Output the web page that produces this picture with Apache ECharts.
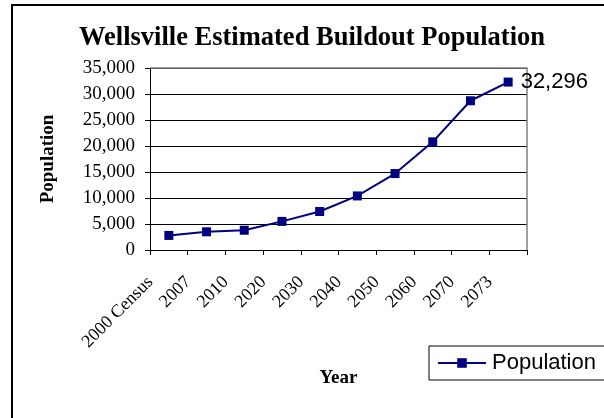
<!DOCTYPE html>
<html><head><meta charset="utf-8">
<script src="https://cdn.jsdelivr.net/npm/echarts@6/dist/echarts.min.js"></script>
<style>html,body{margin:0;padding:0;background:#fff}#c{width:604px;height:418px}</style>
</head><body><div id="c"></div>
<script>
var categories = ['2000 Census','2007','2010','2020','2030','2040','2050','2060','2070','2073'];
var population = [2800, 3500, 3800, 5500, 7400, 10400, 14700, 20800, 28700, 32296];
var yTicks = {min: 0, max: 35000, interval: 5000};
var titleText = 'Wellsville Estimated Buildout Population';
var xName = 'Year', yName = 'Population', seriesName = 'Population';

var chart = echarts.init(document.getElementById('c'), null, {renderer: 'canvas'});
var serif = '"Liberation Serif", "Times New Roman", serif';
var sans = '"Liberation Sans", Arial, sans-serif';
var lastIdx = population.length - 1;
var G = {left: 150, top: 68, right: 527, bottom: 250};
chart.setOption({
  animation: false,
  backgroundColor: '#fff',
  graphic: [
    {type: 'rect', shape: {x: 12, y: 5, width: 700, height: 500}, style: {fill: 'none', stroke: '#000', lineWidth: 2}, z: 100},
    {type: 'polyline', shape: {points: [[G.left, G.top], [G.right, G.top], [G.right, G.bottom]]},
      style: {fill: 'none', stroke: '#808080', lineWidth: 1.5}, z: 1}
  ],
  title: {
    text: titleText, left: 307, textAlign: 'center', top: 20,
    textStyle: {fontFamily: serif, fontWeight: 'bold', fontSize: 26.5, color: '#000'}
  },
  legend: {
    left: 429, top: 346, padding: [6, 14, 6, 8],
    borderColor: '#000', borderWidth: 1, backgroundColor: '#fff',
    itemWidth: 48, itemHeight: 12, itemGap: 4,
    textStyle: {fontFamily: sans, fontSize: 22, color: '#000', padding: [0, 0, 0, 1]},
    data: [seriesName]
  },
  grid: {left: G.left, right: 604 - G.right, top: G.top, bottom: 418 - G.bottom, containLabel: false},
  xAxis: {
    type: 'category', data: categories, boundaryGap: true,
    name: xName, nameLocation: 'middle', nameGap: 119,
    nameTextStyle: {fontFamily: serif, fontWeight: 'bold', fontSize: 19, color: '#000'},
    axisLine: {lineStyle: {color: '#000', width: 1}},
    axisTick: {show: true, alignWithLabel: false, length: 5, lineStyle: {color: '#000'}},
    axisLabel: {rotate: 45, interval: 0, fontFamily: serif, fontSize: 18, color: '#000', margin: 11,
      padding: [0, 26, 0, 0]}
  },
  yAxis: {
    type: 'value', min: yTicks.min, max: yTicks.max, interval: yTicks.interval,
    name: yName, nameLocation: 'middle', nameGap: 92, nameRotate: 90,
    nameTextStyle: {fontFamily: serif, fontWeight: 'bold', fontSize: 19, color: '#000'},
    axisLine: {show: true, lineStyle: {color: '#000', width: 1}},
    axisTick: {show: true, length: 5, lineStyle: {color: '#000'}},
    splitLine: {show: true, lineStyle: {color: '#000', width: 1}},
    axisLabel: {fontFamily: serif, fontSize: 19, color: '#000', margin: 15,
      formatter: function (v) { return v.toLocaleString('en-US'); }}
  },
  series: [{
    name: seriesName, type: 'line', data: population.map(function (v, i) {
      return i === lastIdx ? {value: v, label: {show: true}} : v;
    }),
    symbol: 'rect', symbolSize: 9,
    itemStyle: {color: '#000080'},
    lineStyle: {color: '#000080', width: 2},
    label: {show: false, position: 'right', distance: 8, fontFamily: sans, fontSize: 22, color: '#000',
      formatter: function (p) { return p.value.toLocaleString('en-US'); }}
  }]
});
</script></body></html>
